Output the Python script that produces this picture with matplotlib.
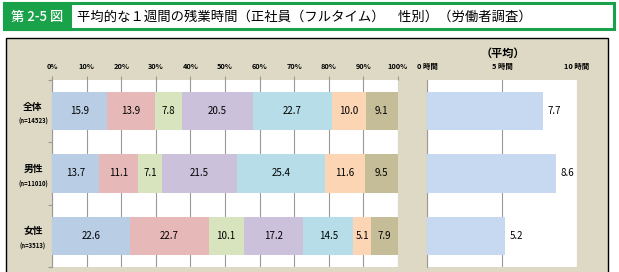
import matplotlib.pyplot as plt
from matplotlib.patches import Rectangle

plt.rcParams['font.family'] = ['Noto Sans CJK JP', 'DejaVu Sans']

# ---- data ----
groups = ["全体", "男性", "女性"]
n_labels = ["(n=14523)", "(n=11010)", "(n=3513)"]
shares = [
    [15.9, 13.9, 7.8, 20.5, 22.7, 10.0, 9.1],
    [13.7, 11.1, 7.1, 21.5, 25.4, 11.6, 9.5],
    [22.6, 22.7, 10.1, 17.2, 14.5, 5.1, 7.9],
]
avg_hours = [7.7, 8.6, 5.2]
pct_ticks = list(range(0, 101, 10))
hour_ticks = [0, 5, 10]

seg_colors = ["#b9cde5", "#e6b9b8", "#d7e4bd", "#ccc1da", "#b7dee8", "#fcd5b5", "#c4bd97"]
bg = "#ddd9c4"
W, H = 619, 272


def px_axes(fig, x0, y0, x1, y1):
    return fig.add_axes([x0 / W, 1 - y1 / H, (x1 - x0) / W, (y1 - y0) / H])


fig = plt.figure(figsize=(W / 100, H / 100), dpi=100)

# title bar
fig.patches.append(Rectangle((4 / W, 1 - 29 / H), 610 / W, 26 / H, transform=fig.transFigure,
                             facecolor="white", edgecolor="#1aa24a", lw=2.2, zorder=-2))
fig.patches.append(Rectangle((4 / W, 1 - 29 / H), 66 / W, 26 / H, transform=fig.transFigure,
                             facecolor="#1aa24a", edgecolor="#1aa24a", lw=2.2, zorder=-2))
fig.text(37 / W, 1 - 16.5 / H, "第 2-5 図", color="white", fontsize=9.5, fontweight="medium",
         ha="center", va="center")
fig.text(77 / W, 1 - 16.5 / H, "平均的な１週間の残業時間（正社員（フルタイム）　性別）（労働者調査）",
         color="black", fontsize=9.6, ha="left", va="center")

# chart panel
fig.patches.append(Rectangle((6 / W, -0.1), 602 / W, 1 - 38 / H + 0.1, transform=fig.transFigure,
                             facecolor=bg, edgecolor="black", lw=1.0, zorder=-2))

# ---- left: stacked percentages ----
ax = px_axes(fig, 52, 80, 398, 267)
for i, row in enumerate(shares):
    left = 0
    for j, v in enumerate(row):
        ax.barh(i, v, left=left, height=0.61, color=seg_colors[j], zorder=3)
        ax.text(left + v / 2, i, f"{v:.1f}", ha="center", va="center", fontsize=7, zorder=4)
        left += v
ax.set_xlim(0, 100)
ax.set_ylim(2.5, -0.5)
ax.xaxis.tick_top()
ax.set_xticks(pct_ticks)
ax.set_xticklabels([f"{t}%" for t in pct_ticks], fontsize=5.3, fontweight="bold")
ax.tick_params(axis="x", length=3, color="#999999", pad=4)
ax.grid(axis="x", color="#999999", lw=0.8, zorder=1)
ax.set_yticks([-0.5, 0.5, 1.5, 2.5])
ax.set_yticklabels([])
ax.tick_params(axis="y", length=3, color="#999999")
for s in ["top", "right", "bottom"]:
    ax.spines[s].set_visible(False)
ax.spines["left"].set_color("#999999")
for i, (g, n) in enumerate(zip(groups, n_labels)):
    ax.text(-0.055, i - 0.07, g, transform=ax.get_yaxis_transform(), ha="center", va="center",
            fontsize=7, fontweight="bold")
    ax.text(-0.055, i + 0.17, n, transform=ax.get_yaxis_transform(), ha="center", va="center",
            fontsize=4.3, fontweight="bold")

# ---- right: average hours ----
ax2 = px_axes(fig, 427, 80, 577, 267)
ax2.barh(range(len(avg_hours)), avg_hours, height=0.61, color="#c6d9f1", zorder=3)
for i, v in enumerate(avg_hours):
    ax2.text(v + 0.3, i, f"{v:.1f}", ha="left", va="center", fontsize=7, zorder=4)
ax2.set_xlim(0, 10)
ax2.set_ylim(2.5, -0.5)
ax2.xaxis.tick_top()
ax2.set_xticks(hour_ticks)
ax2.set_xticklabels([f"{t} 時間" for t in hour_ticks], fontsize=5.3, fontweight="bold")
ax2.tick_params(axis="x", length=0, pad=7)
ax2.grid(axis="x", color="#999999", lw=0.8, zorder=1)
ax2.set_yticks([])
for s in ["top", "right", "bottom"]:
    ax2.spines[s].set_visible(False)
ax2.spines["left"].set_color("#999999")
fig.text(503 / W, 1 - 53 / H, "（平均）", ha="center", va="center", fontsize=8, fontweight="bold")

fig.savefig("out.png", dpi=100)
